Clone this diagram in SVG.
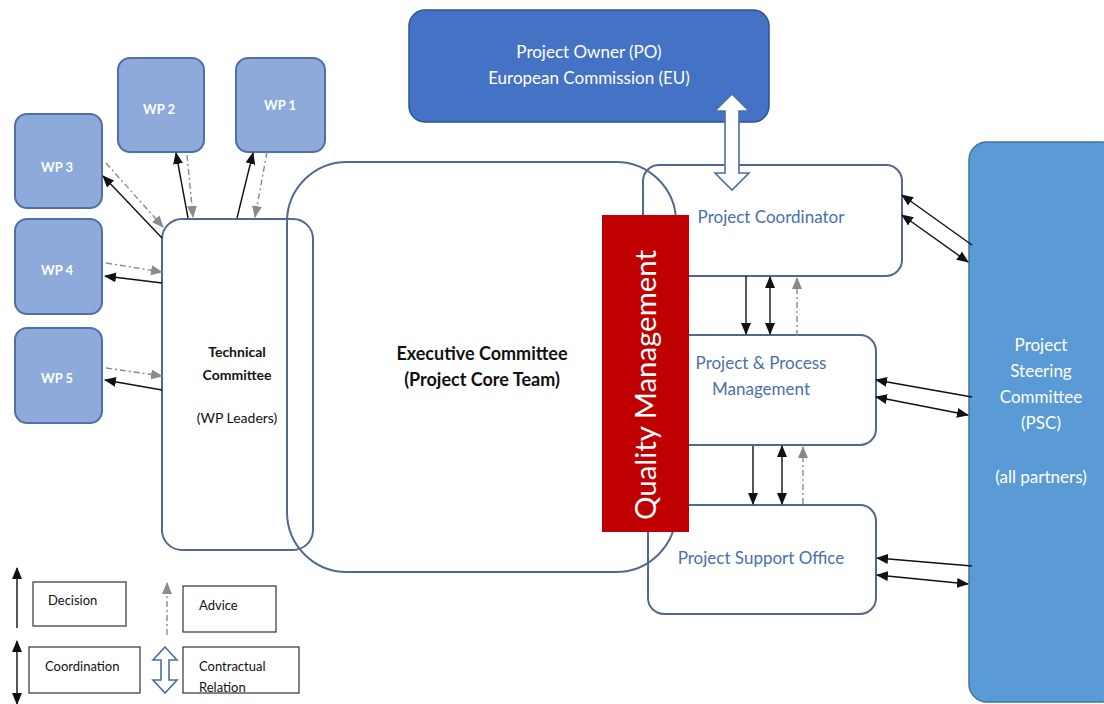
<svg xmlns="http://www.w3.org/2000/svg" width="1104" height="704" viewBox="0 0 1104 704">
<defs>
<style>
.wp{fill:#8eaadb;stroke:#4f6fa8;stroke-width:2}
.wpt{font-family:Lato,"Open Sans",sans-serif;font-size:13px;font-weight:bold;fill:#ffffff;text-anchor:middle}
.box{fill:none;stroke:#52698f;stroke-width:2}
.bt{font-family:Lato,"Open Sans",sans-serif;font-size:17px;fill:#4a6fae;text-anchor:middle}
.blk{font-family:Lato,"Open Sans",sans-serif;font-size:14px;font-weight:bold;fill:#111111;text-anchor:middle}
.nrm{font-family:Lato,"Open Sans",sans-serif;font-size:14px;font-weight:normal;fill:#111111;text-anchor:middle}
.ect{font-family:Lato,"Open Sans",sans-serif;font-size:18px;font-weight:bold;fill:#111111;text-anchor:middle}
.wt{font-family:Lato,"Open Sans",sans-serif;font-size:17px;fill:#ffffff;text-anchor:middle}
.lg{fill:#ffffff;stroke:#333333;stroke-width:1.2}
.lt{font-family:Lato,"Open Sans",sans-serif;font-size:13px;fill:#111111}
.dec{stroke:#111111;stroke-width:1.4;fill:none;marker-end:url(#ah)}
.crd{stroke:#111111;stroke-width:1.4;fill:none;marker-end:url(#ah);marker-start:url(#ah)}
.adv{stroke:#8a8a8a;stroke-width:1.4;fill:none;stroke-dasharray:6 3 2 3;marker-end:url(#ag)}
.hol{fill:#ffffff;stroke:#4a6fa5;stroke-width:1.6}
</style>
<marker id="ah" viewBox="0 0 12 10" refX="11" refY="5" markerWidth="12" markerHeight="10" markerUnits="userSpaceOnUse" orient="auto-start-reverse"><path d="M0,0 L12,5 L0,10 z" fill="#111111"/></marker>
<marker id="ag" viewBox="0 0 12 10" refX="11" refY="5" markerWidth="12" markerHeight="10" markerUnits="userSpaceOnUse" orient="auto-start-reverse"><path d="M0,0 L12,5 L0,10 z" fill="#8a8a8a"/></marker>
</defs>
<rect x="0" y="0" width="1104" height="704" fill="#ffffff"/>

<g id="po">
<rect x="409" y="10" width="360" height="112" rx="16" fill="#4472c4" stroke="#2f528f" stroke-width="1.5"/>
<text class="wt" x="589" y="58">Project Owner (PO)</text>
<text class="wt" x="589" y="84">European Commission (EU)</text>
</g>

<g id="psc">
<rect x="969" y="142" width="150" height="560" rx="18" fill="#5b9bd5" stroke="#41719c" stroke-width="1.5"/>
<text class="wt" x="1041" y="351">Project</text>
<text class="wt" x="1041" y="377">Steering</text>
<text class="wt" x="1041" y="403">Committee</text>
<text class="wt" x="1041" y="429">(PSC)</text>
<text class="wt" x="1041" y="483">(all partners)</text>
</g>

<g id="wp1"><rect class="wp" x="236" y="58" width="89" height="94" rx="12"/><text class="wpt" x="280" y="110">WP 1</text></g>
<g id="wp2"><rect class="wp" x="118" y="58" width="86" height="94" rx="12"/><text class="wpt" x="159" y="114">WP 2</text></g>
<g id="wp3"><rect class="wp" x="15" y="114" width="87" height="94" rx="12"/><text class="wpt" x="57" y="172">WP 3</text></g>
<g id="wp4"><rect class="wp" x="15" y="219" width="87" height="95" rx="12"/><text class="wpt" x="57" y="275">WP 4</text></g>
<g id="wp5"><rect class="wp" x="15" y="328" width="87" height="95" rx="12"/><text class="wpt" x="57" y="383">WP 5</text></g>

<g id="ec">
<rect class="box" x="287" y="162" width="389" height="410" rx="60"/>
<text class="ect" x="482" y="360">Executive Committee</text>
<text class="ect" x="482" y="386">(Project Core Team)</text>
</g>

<g id="tc">
<rect class="box" x="162" y="219" width="151" height="331" rx="20"/>
<text class="blk" x="237" y="357">Technical</text>
<text class="blk" x="237" y="380">Committee</text>
<text class="nrm" x="237" y="423">(WP Leaders)</text>
</g>

<g id="pc">
<rect class="box" x="643" y="165" width="259" height="111" rx="16"/>
<text class="bt" x="771" y="223">Project Coordinator</text>
</g>

<g id="ppm">
<rect class="box" x="647" y="335" width="229" height="110" rx="16"/>
<text class="bt" x="761" y="369">Project &amp; Process</text>
<text class="bt" x="761" y="395">Management</text>
</g>

<g id="pso">
<rect class="box" x="648" y="505" width="228" height="109" rx="16"/>
<text class="bt" x="761" y="564">Project Support Office</text>
</g>

<g id="connectors">
<path class="dec" d="M162,238 L103,176"/>
<path class="dec" d="M188,218 L176,153"/>
<path class="dec" d="M237,218 L253,153"/>
<path class="dec" d="M162,283 L105,276"/>
<path class="dec" d="M162,390 L105,380"/>
<path class="dec" d="M972,245 L902,195"/>
<path class="dec" d="M972,397 L876,380"/>
<path class="dec" d="M972,566 L877,558"/>
<path class="dec" d="M746,276 L746,334"/>
<path class="dec" d="M753,446 L753,504"/>
<path class="crd" d="M902,215 L968,262"/>
<path class="crd" d="M876,397 L968,415"/>
<path class="crd" d="M877,575 L968,584"/>
<path class="crd" d="M770,277 L770,334"/>
<path class="crd" d="M782,446 L782,504"/>
<path class="adv" d="M106,163 L163,227"/>
<path class="adv" d="M187,155 L193,217"/>
<path class="adv" d="M267,152 L255,217"/>
<path class="adv" d="M106,263 L162,272"/>
<path class="adv" d="M106,368 L162,376"/>
<path class="adv" d="M797,336 L797,278"/>
<path class="adv" d="M803,504 L803,447"/>
<polygon class="hol" points="732,94 749,111 739,111 739,173 749,173 732,190 715,173 725,173 725,111 715,111"/>
</g>

<g id="qm">
<rect x="602" y="215" width="87" height="317" fill="#c00000"/>
<text x="0" y="0" transform="translate(656,385) rotate(-90)" font-family="Lato,'Open Sans',sans-serif" font-size="28" fill="#ffffff" text-anchor="middle" textLength="270" lengthAdjust="spacingAndGlyphs">Quality Management</text>
</g>

<g id="legend">
<path class="dec" d="M17,628 L17,568"/>
<rect class="lg" x="33" y="582" width="93" height="44"/>
<text class="lt" x="48" y="605">Decision</text>
<path class="adv" d="M167,635 L167,583"/>
<rect class="lg" x="183" y="586" width="93" height="46"/>
<text class="lt" x="199" y="610">Advice</text>
<path class="crd" d="M17,641 L17,704"/>
<rect class="lg" x="29" y="647" width="111" height="46"/>
<text class="lt" x="45" y="671">Coordination</text>
<polygon class="hol" points="165,647 177,660 169,660 169,680 177,680 165,693 153,680 161,680 161,660 153,660"/>
<rect class="lg" x="183" y="647" width="116" height="46"/>
<text class="lt" x="199" y="671">Contractual</text>
<text class="lt" x="199" y="692">Relation</text>
</g>
</svg>
